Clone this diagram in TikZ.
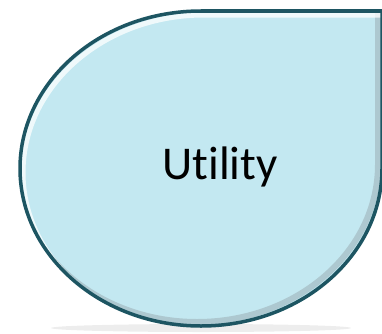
\documentclass[tikz,border=0pt]{standalone}
\usepackage{fontspec}
\setmainfont{Carlito}[Ligatures={NoCommon}]
\usepackage{tikz}
\usetikzlibrary{positioning}
\definecolor{dropfill}{HTML}{C3E8F1}
\definecolor{dropedge}{HTML}{1D5562}
\definecolor{dropshade}{HTML}{9FB4BA}
% teardrop outline, square corner at top right
\newcommand{\teardrop}{(201,322) -- (382,322) -- (382,164.5)
  arc[start angle=0, end angle=-180, x radius=181, y radius=157.5]
  arc[start angle=180, end angle=90, x radius=181, y radius=157.5] -- cycle}

\begin{document}
\begin{tikzpicture}[x=1pt, y=1pt,
  edge/.style={draw=dropedge, line width=3.5pt, line join=miter},
  lit/.style={draw=white, line width=5pt, opacity=0.75},
  shade/.style={draw=dropshade, line width=6pt, opacity=0.6},
  lbl/.style={font=\fontsize{47}{50}\selectfont, text=black}
]
  \useasboundingbox (0,0) rectangle (382,333);
  % soft shadow under the shape
  \fill[black!7] (201,5) ellipse[x radius=150, y radius=4];
  \fill[dropfill] \teardrop;
  \begin{scope}
    \clip \teardrop;
    \draw[shade, shift={(-4,4)}] \teardrop;
    \draw[lit, shift={(3,-4)}] \teardrop;
  \end{scope}
  \draw[edge] \teardrop;
  \node[lbl] (utility) at (220,166) {Utility};
\end{tikzpicture}
\end{document}
